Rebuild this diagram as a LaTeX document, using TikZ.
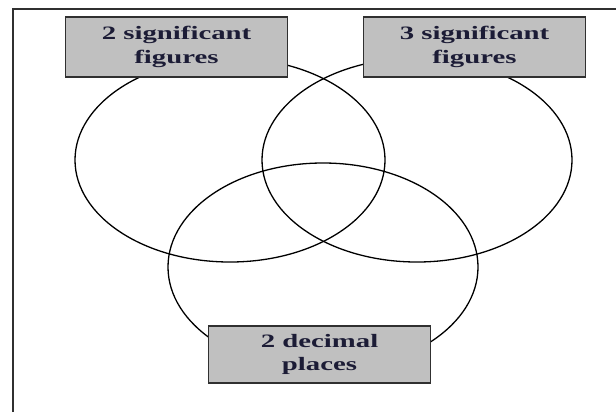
\documentclass[tikz,border=0pt]{standalone}
\usepackage{fontspec}
\setmainfont{Liberation Serif}
\usepackage{tikz}
\usetikzlibrary{positioning}
\usepackage{xcolor}
\definecolor{vink}{HTML}{1C1C36}
\definecolor{vfill}{HTML}{C0C0C0}
\definecolor{vedge}{HTML}{303030}

\begin{document}
\begin{tikzpicture}[x=1bp, y=-1bp,
  setring/.style={draw=black, line width=1.3bp},
  setlabel/.style={draw=vedge, fill=vfill, line width=1.1bp, text=vink,
    font=\fontsize{19}{23.5}\selectfont\bfseries, align=center,
    minimum width=145.5bp, minimum height=60bp, inner sep=0pt,
    xscale=1.52, transform shape}]
\useasboundingbox (0,0) rectangle (616,412);
% ---------------- frame ----------------
\draw[vedge, line width=1.8bp] (13,412) -- (13,9) -- (616,9);
% ---------------- the three sets ----------------
\draw[setring] (230,160) ellipse [x radius=155, y radius=102];
\draw[setring] (417,160) ellipse [x radius=155, y radius=102];
\draw[setring] (323,267) ellipse [x radius=155, y radius=104];
% ---------------- labels ----------------
\node[setlabel] (sigtwo) at (176.5,47) {2 significant\\figures};
\node[setlabel] (sigthree) at (474.5,47) {3 significant\\figures};
\node[setlabel, minimum height=57bp] (dectwo) at (319.5,354.5) {2 decimal\\places};
\end{tikzpicture}
\end{document}
